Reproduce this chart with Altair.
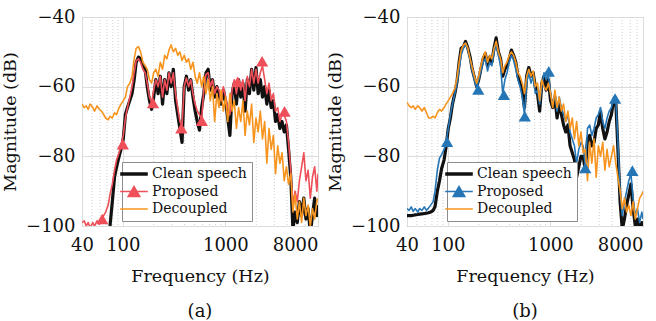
import altair as alt
import pandas as pd

FREQ = [40, 42, 44, 46, 48, 51, 53, 56, 59, 62,
        65, 68, 72, 75, 79, 83, 87, 92, 96, 101,
        106, 111, 117, 123, 129, 135, 142, 149, 157, 165,
        173, 182, 191, 200, 210, 221, 232, 244, 256, 269,
        282, 296, 311, 327, 343, 360, 378, 397, 417, 438,
        460, 483, 507, 532, 559, 587, 616, 647, 679, 713,
        749, 786, 826, 867, 910, 956, 1004, 1054, 1107, 1162,
        1220, 1281, 1345, 1412, 1483, 1557, 1635, 1717, 1803, 1893,
        1988, 2087, 2191, 2301, 2416, 2537, 2664, 2797, 2937, 3084,
        3238, 3400, 3570, 3748, 3936, 4132, 4339, 4556, 4784, 5023,
        5274, 5538, 5815, 6105, 6411, 6731, 7068, 7421, 7792, 8000]

CLEAN_A = [-112, -112, -112, -112, -112, -112, -112, -112, -112, -112,
           -112, -108, -104, -100, -93, -86, -83, -80, -78, -75,
           -68, -66, -64, -62, -58, -53, -51.5, -52, -54, -55,
           -60, -64, -66.5, -63, -58, -62, -57, -65, -58, -62,
           -56, -60, -55, -64, -68, -72, -76, -60, -57, -61,
           -58, -63, -67, -70, -72.5, -66, -62, -56, -55, -61,
           -58, -63, -60, -62, -65, -61, -64, -69, -74, -62,
           -59, -65, -58, -63, -59, -67, -58, -62, -55, -61,
           -54.5, -62, -58, -63, -60, -65, -61, -66, -64, -70,
           -68, -72, -70, -73, -71, -78, -86, -101, -96, -99,
           -93, -97, -92, -98, -95, -102, -97, -92, -97, -94]

PROP_A = [-99, -98.5, -100, -99, -100.5, -99, -100, -98.5, -99.5, -98.5,
          -97, -96, -94, -91, -88, -84, -81, -79, -77, -74,
          -69, -66, -63, -60, -56, -52.5, -52, -53, -55, -56,
          -59, -63, -64.5, -61, -58, -60, -57, -63, -58, -61,
          -56, -59, -56, -62, -66, -70, -71, -60, -57.5, -60,
          -58, -62, -65, -67, -68, -69.5, -61, -56.5, -56, -60,
          -58, -62, -60, -61, -64, -60, -63, -66, -68, -61,
          -58, -62, -58, -61, -58, -64, -57, -60, -55, -59,
          -55, -59, -56, -54, -58, -62, -59, -64, -62, -67,
          -66, -70, -68, -68, -70, -76, -84, -94, -90, -93,
          -87, -83, -79, -87, -84, -92, -86, -83, -90, -85]

DEC_A = [-65, -66, -65.5, -66.5, -65, -66, -67, -65.5, -66.5, -67,
         -68, -69, -69.5, -68.5, -69, -67.5, -68, -66, -65, -64,
         -63, -60, -59, -57, -52, -49, -48.5, -50, -53, -54,
         -55, -58, -59, -56, -55, -57, -53, -55, -51, -52,
         -49.5, -48, -50, -49, -51, -50, -52.5, -51, -53, -52,
         -55, -53, -57, -59, -56, -60, -57, -62, -58, -64,
         -60, -70, -62, -66, -61, -67, -63, -70, -62, -67,
         -64, -72, -66, -70, -64, -74, -67, -71, -65, -76,
         -69, -73, -67, -75, -70, -82, -72, -78, -74, -85,
         -77, -82, -79, -87, -83, -88, -85, -96, -91, -98,
         -93, -99, -92, -97, -94, -100, -95, -98, -93, -92]

CLEAN_B = [-97, -97, -97, -96.9, -96.8, -96.7, -96.6, -96.5, -96.4, -96.3,
           -96.2, -96, -95.5, -94.5, -90, -87, -83.5, -81, -77.5, -72,
           -69, -65, -62, -58.5, -53, -49, -48.5, -47, -49, -51.5,
           -55, -57.5, -60, -58, -55, -52, -50.5, -54, -51.5, -53,
           -49, -46, -50, -52, -57, -55, -54, -52, -49.5, -51,
           -53, -57, -59, -61, -66, -57, -54.5, -57, -56, -60,
           -62, -67, -59, -57, -61, -58, -64, -66, -63, -69,
           -65, -68, -71, -73, -71, -77, -79, -81, -86, -83,
           -80, -80, -84, -75, -74, -77, -76, -72, -71, -67,
           -72, -75, -73, -70, -68, -64, -64, -78, -93, -101,
           -98, -94, -91, -88, -95, -100, -98, -101, -99, -100]

PROP_B = [-95, -95.5, -94.5, -95.8, -95, -96, -95, -95.5, -94.5, -95.5,
          -94.8, -94, -93, -90, -84, -80.5, -79.5, -78, -76, -72,
          -68, -65, -62, -59, -55, -51, -49, -47.5, -49.5, -52,
          -55.5, -58, -60.5, -58, -55.5, -53, -52, -55.5, -53, -54,
          -50, -48, -51, -54, -62, -58, -56, -53, -51, -52.5,
          -55, -58, -60, -63, -68, -59, -56, -59, -57, -62,
          -61, -65, -60, -56, -58, -56.5, -62, -65, -62, -67,
          -63, -66, -68, -70, -68, -73, -75, -77, -82, -78,
          -76, -77, -82.5, -72, -71, -74, -72, -69, -68, -66,
          -70, -72, -69, -67, -66, -63, -63, -76, -90, -97,
          -93, -90, -87, -85, -92, -97, -95, -99, -96, -98]

DEC_B = [-64.5, -65.5, -66, -65.5, -66.5, -65.5, -66, -67, -66, -67.5,
         -69, -69, -68.5, -69, -67.5, -66.5, -67, -66, -65, -64,
         -63, -62, -60.5, -57.5, -53, -49.5, -48, -47.5, -49, -52,
         -54.5, -57, -59, -57, -54, -51.5, -50, -53, -51, -52,
         -49, -47, -50, -52, -56, -54, -53, -51, -50, -51,
         -53, -56, -57, -59, -62, -57, -55, -57, -55.5, -60,
         -59, -64, -58, -60, -61, -59, -62, -66, -61, -66,
         -63, -67, -65, -70, -67, -72, -69, -75, -70, -77,
         -73, -79, -78, -87, -76, -82, -75, -86, -77, -80,
         -76, -84, -78, -83, -80, -77, -82, -86, -90, -95,
         -92, -96, -94, -97, -93, -98, -95, -92, -91, -90]

MARK_A_F = [63, 100, 197, 372, 589, 1318, 2280, 3775]
MARK_A_V = [-98, -76.5, -64.7, -71.9, -69.8, -58.6, -52.7, -67.1]
MARK_B_F = [98.4, 198, 352, 563, 964, 2188, 4277, 6300]
MARK_B_V = [-75.8, -60.8, -62.3, -68.5, -55.6, -83.3, -63.4, -84.1]

MINOR_GRID = [50, 60, 70, 80, 90, 200, 300, 400, 500, 600, 700, 800, 900,
              2000, 3000, 4000, 5000, 6000, 7000]
X_TICKS = [40, 100, 1000, 8000]
Y_TICKS = [-100, -80, -60, -40]
SERIES = ["Clean speech", "Proposed", "Decoupled"]

FONT = "DejaVu Serif"
W, H = 236, 209
ORANGE = "#f7941e"


def panel(clean, prop, dec, mkf, mkv, pcol, cap):
    n = len(FREQ)
    df = pd.DataFrame({
        "f": FREQ * 3,
        "v": clean + prop + dec,
        "s": [SERIES[0]] * n + [SERIES[1]] * n + [SERIES[2]] * n,
    })
    mk = pd.DataFrame({"f": mkf, "v": mkv})
    grid_df = pd.DataFrame({"f": MINOR_GRID})

    xs = alt.Scale(type="log", domain=[40, 8000], nice=False)
    ys = alt.Scale(domain=[-100, -40], nice=False, zero=False)
    xaxis = alt.Axis(values=X_TICKS, format="d", title="Frequency (Hz)",
                     grid=True, gridColor="#dcdcdc", domain=False, ticks=False,
                     labelFontSize=18, labelColor="#111",
                     labelPadding=10,
                     labelAlign={"condition": {"test": "datum.value >= 7999", "value": "right"},
                                 "value": "center"},
                     titleFontSize=17.5, titleFontWeight="normal",
                     titleColor="#111", titlePadding=13)
    yaxis = alt.Axis(values=Y_TICKS, format="d", title="Magnitude (dB)",
                     grid=True, gridColor="#dcdcdc", domain=False, ticks=False,
                     labelFontSize=18, labelColor="#111",
                     labelPadding=7,
                     titleFontSize=17.5, titleFontWeight="normal",
                     titleColor="#111", titlePadding=6)
    X = alt.X("f:Q", scale=xs, axis=xaxis)
    Y = alt.Y("v:Q", scale=ys, axis=yaxis)

    leg = alt.Legend(
        title=None, orient="none", legendX=40, legendY=145, direction="vertical",
        labelFontSize=14, labelColor="#111", labelOffset=11,
        symbolType={"expr": "datum.value === 'Proposed' ? 'M-1,0L1,0M-0.42,0.36L0,-0.36L0.42,0.36Z' : 'M-1,0L1,0'"},
        symbolFillColor={"expr": "datum.value === 'Proposed' ? '%s' : 'transparent'" % pcol},
        symbolStrokeWidth={"expr": "datum.value === 'Clean speech' ? 3.5 : 1.5"},
        symbolSize=760, symbolOpacity=1,
        strokeColor="#8c8c8c", fillColor="white", padding=5, rowPadding=2.5,
    )
    color = alt.Color("s:N", scale=alt.Scale(domain=SERIES, range=["#111111", pcol, ORANGE]),
                      legend=leg)

    grid = alt.Chart(grid_df).mark_rule(color="#cfcfcf", strokeDash=[1, 2], strokeWidth=1).encode(x=X)
    base = alt.Chart(df)
    l_clean = base.transform_filter(alt.datum.s == SERIES[0]).mark_line(
        clip=True, strokeWidth=3.2, strokeJoin="round").encode(x=X, y=Y, color=color)
    l_prop = base.transform_filter(alt.datum.s == SERIES[1]).mark_line(
        clip=True, strokeWidth=1.6, strokeJoin="round").encode(x=X, y=Y, color=color)
    l_dec = base.transform_filter(alt.datum.s == SERIES[2]).mark_line(
        clip=True, strokeWidth=1.6, strokeJoin="round").encode(x=X, y=Y, color=color)
    marks = alt.Chart(mk).mark_point(shape="triangle-up", filled=True, size=150, opacity=1,
                                     color=pcol, clip=True).encode(x=X, y=Y)

    return alt.layer(grid, l_clean, l_prop, l_dec, marks).properties(
        width=W, height=H,
        title=alt.TitleParams(cap, orient="bottom", frame="group", anchor="middle",
                              fontSize=18, fontWeight="normal", color="#111",
                              offset=18),
    )


pa = panel(CLEAN_A, PROP_A, DEC_A, MARK_A_F, MARK_A_V, "#ee4f58", "(a)")
pb = panel(CLEAN_B, PROP_B, DEC_B, MARK_B_F, MARK_B_V, "#2676b6", "(b)")

chart = alt.hconcat(pa, pb, spacing=7).resolve_scale(color="independent").properties(
    padding={"left": 1, "top": 7, "right": 10, "bottom": 2}
).configure(font=FONT).configure_axis(labelFont=FONT, titleFont=FONT).configure_legend(
    labelFont=FONT).configure_title(font=FONT).configure_view(stroke="#8c8c8c", strokeWidth=1)

chart.save("out.html", embed_options={"renderer": "svg", "actions": False})
